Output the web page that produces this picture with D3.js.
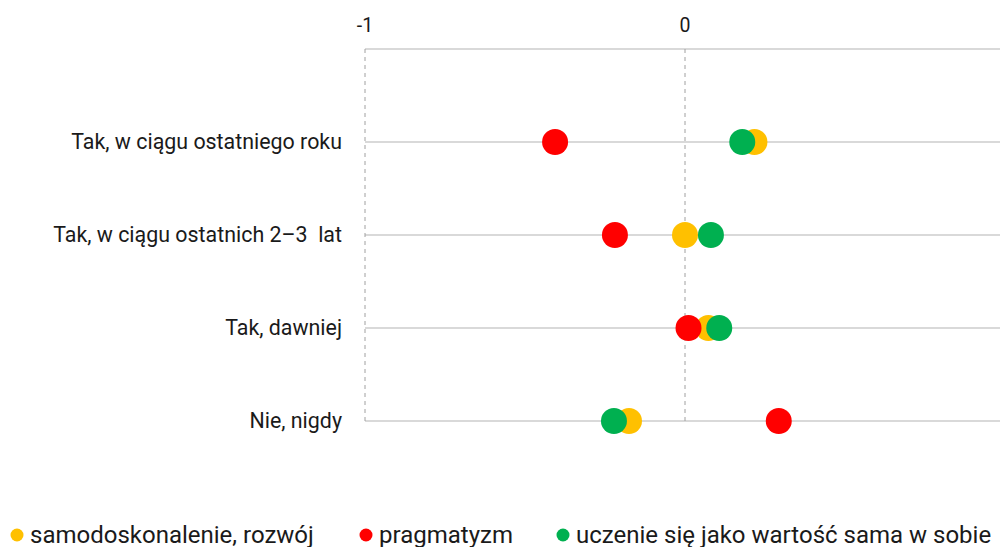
<!DOCTYPE html>
<html lang="pl">
<head>
    <meta charset="UTF-8">
    <title>Dot plot</title>
    <script src="https://d3js.org/d3.v7.min.js"></script>
    <style>
        body { margin: 0; padding: 0; background: #fff; overflow: hidden; }
        svg text { font-family: Roboto, "Noto Sans", Arial, sans-serif; fill: #1a1a1a; white-space: pre; }
    </style>
</head>
<body>
    <div id="chart"></div>
    <script>
        // categories (top to bottom) and their row positions
        const categories = ["Tak, w ciągu ostatniego roku", "Tak, w ciągu ostatnich 2\u20133  lat", "Tak, dawniej", "Nie, nigdy"];
        const rowPos = [3, 2, 1, 0];

        const seriesNames = ["samodoskonalenie, rozwój", "pragmatyzm", "uczenie się jako wartość sama w sobie"];
        const seriesColors = ["#FFC000", "#FF0000", "#00B050"];

        // values per series, in category order
        const samodoskonalenie = [0.217, 0.0, 0.073, -0.175];
        const pragmatyzm = [-0.406, -0.219, 0.011, 0.293];
        const uczenie = [0.179, 0.081, 0.107, -0.222];
        const seriesValues = [samodoskonalenie, pragmatyzm, uczenie];

        const gridX = [-1, 0, 1];
        const tickLabels = [-1, 0];

        const width = 1000, height = 547;

        const svg = d3.select("#chart")
            .append("svg")
            .attr("width", width)
            .attr("height", height);

        const x = d3.scaleLinear().domain([-1, 1]).range([365, 1005]);
        const y = d3.scaleLinear().domain([4, 0]).range([49, 421]);

        // horizontal gridlines
        svg.append("g")
            .selectAll("line")
            .data([0, 1, 2, 3, 4])
            .join("line")
            .attr("x1", x(-1))
            .attr("x2", x(1))
            .attr("y1", d => y(d))
            .attr("y2", d => y(d))
            .attr("stroke", "#d9d9d9")
            .attr("stroke-width", 2);

        // dashed verticals
        svg.append("g")
            .selectAll("line")
            .data(gridX)
            .join("line")
            .attr("x1", d => x(d))
            .attr("x2", d => x(d))
            .attr("y1", y(4))
            .attr("y2", y(0))
            .attr("stroke", "#a0a0a0")
            .attr("stroke-width", 1)
            .attr("stroke-dasharray", "4,4");

        // top tick labels
        svg.append("g")
            .selectAll("text")
            .data(tickLabels)
            .join("text")
            .attr("x", d => x(d))
            .attr("y", 32)
            .attr("text-anchor", "middle")
            .attr("font-size", 19.5)
            .text(d => d);

        // category labels
        svg.append("g")
            .selectAll("text")
            .data(categories)
            .join("text")
            .attr("x", 342)
            .attr("y", (d, i) => y(rowPos[i]))
            .attr("dy", "0.35em")
            .attr("text-anchor", "end")
            .attr("font-size", 21.4)
            .text(d => d);

        // dots, drawn series by series
        seriesValues.forEach((vals, s) => {
            svg.append("g")
                .selectAll("circle")
                .data(vals)
                .join("circle")
                .attr("cx", d => x(d))
                .attr("cy", (d, i) => y(rowPos[i]))
                .attr("r", 13)
                .attr("fill", seriesColors[s]);
        });

        // legend
        const legendX = [17, 366, 563];
        const legend = svg.append("g")
            .selectAll("g")
            .data(seriesNames)
            .join("g")
            .attr("transform", (d, i) => `translate(${legendX[i]},535)`);

        legend.append("circle")
            .attr("r", 6.5)
            .attr("fill", (d, i) => seriesColors[i]);

        legend.append("text")
            .attr("x", 13)
            .attr("dy", "0.35em")
            .attr("font-size", 24)
            .text(d => d);
    </script>
</body>
</html>
